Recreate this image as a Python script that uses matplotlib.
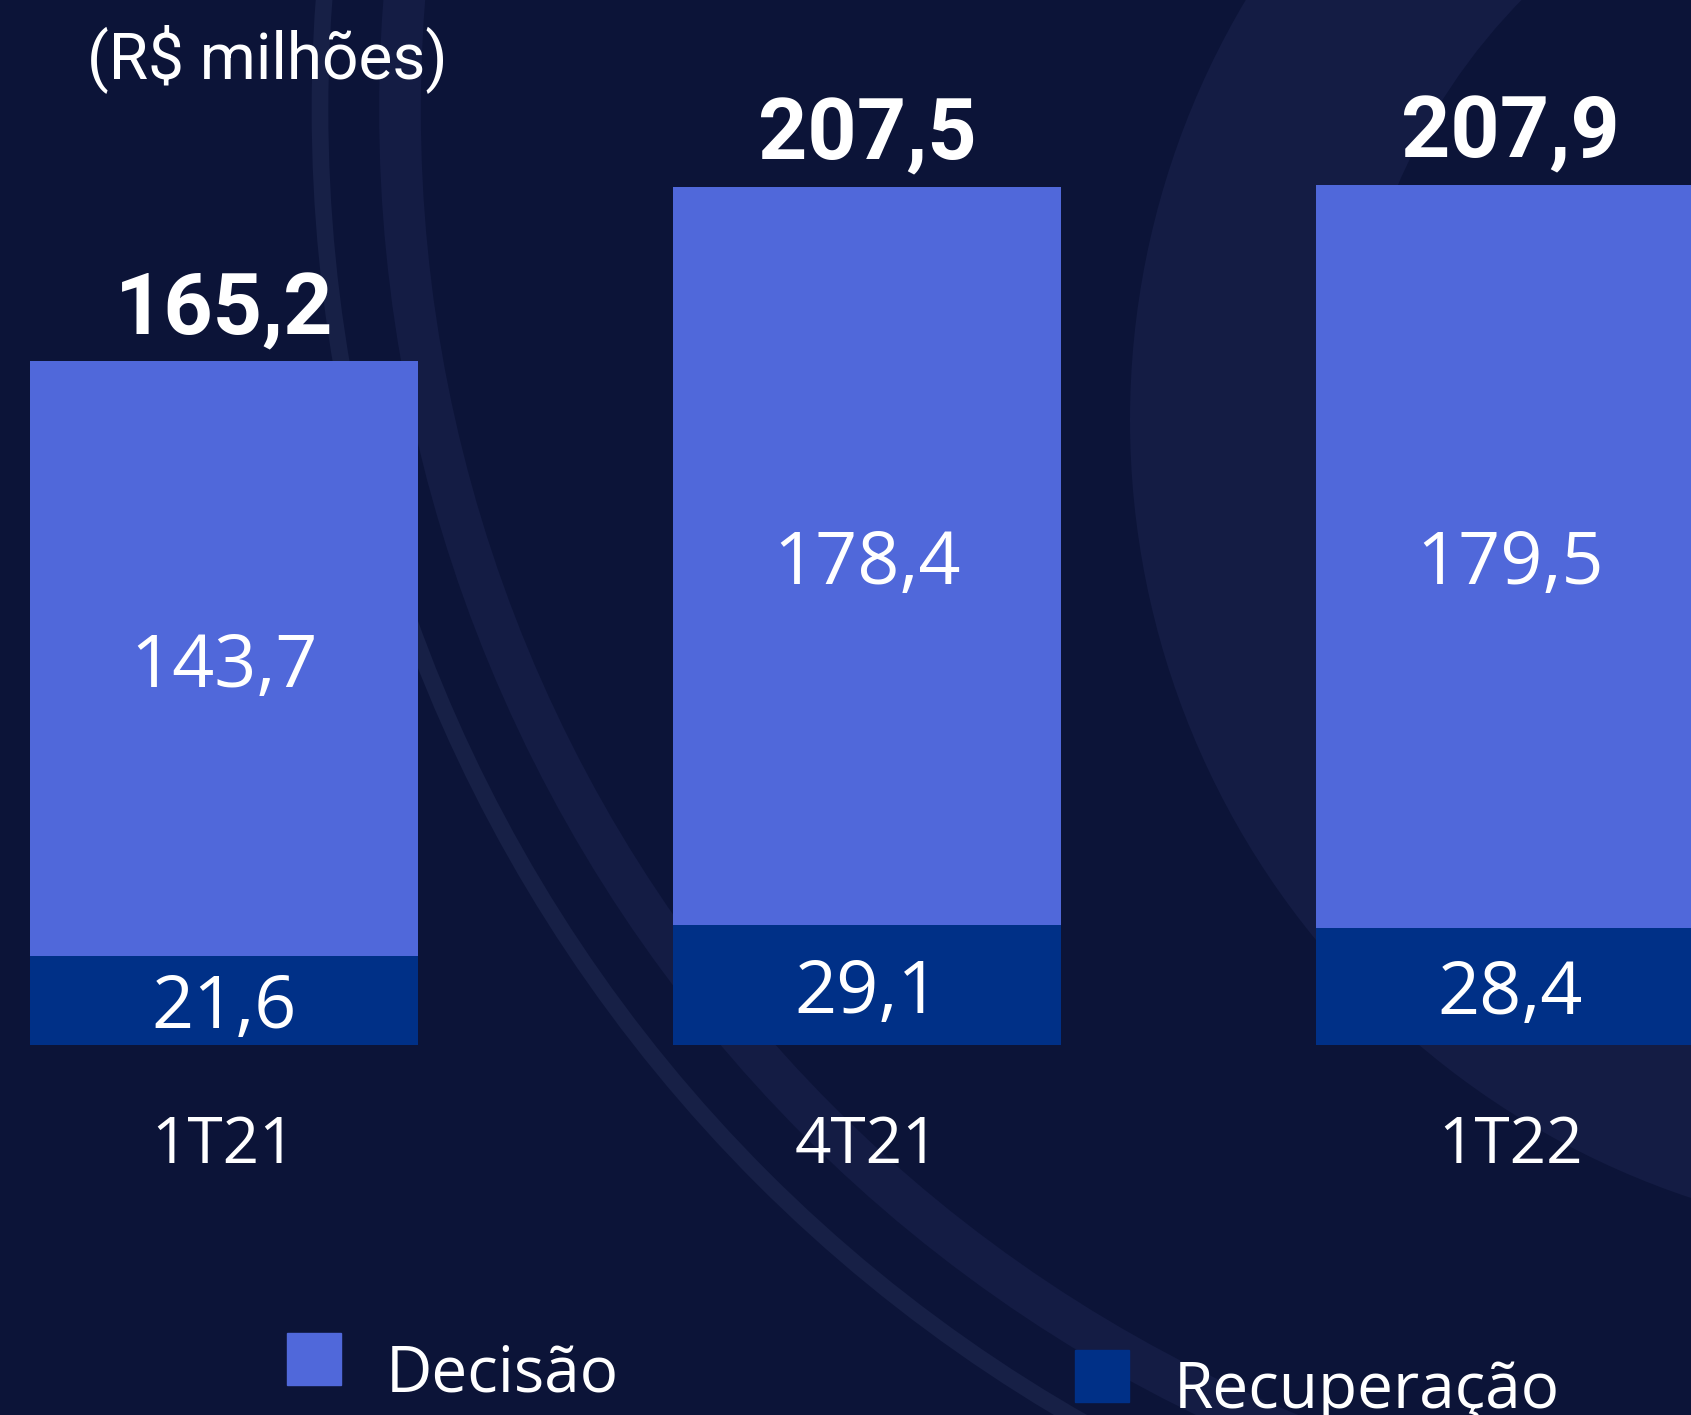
import numpy as np
import matplotlib
matplotlib.use("Agg")
import matplotlib.pyplot as plt
from matplotlib.patches import Circle, Rectangle

# data
periods = ["1T21", "4T21", "1T22"]
recuperacao = [21.6, 29.1, 28.4]
decisao = [143.7, 178.4, 179.5]
totals = [165.2, 207.5, 207.9]

BG = "#0C1438"
C_DEC = "#5068DA"
C_REC = "#003087"

W, H, DPI = 1691, 1415, 100
fig = plt.figure(figsize=(W / DPI, H / DPI), dpi=DPI, facecolor=BG)

# decorative background (faint arcs)
bg = fig.add_axes([0, 0, 1, 1], zorder=-1)
bg.set_xlim(0, W)
bg.set_ylim(H, 0)
bg.axis("off")
bg.set_facecolor(BG)
bg.add_patch(Circle((1950, 420), 820, color="#141C44", lw=0))
bg.add_patch(Circle((1950, 420), 600, color=BG, lw=0))
bg.add_patch(Circle((1830, 110), 1510, fill=False, ec="#172046", lw=12))
bg.add_patch(Circle((1830, 110), 1430, fill=False, ec="#141C44", lw=30))

# main axes: y=0 at pixel 1045, 4.135 px per unit
ax = fig.add_axes([0, (H - 1045) / H, 1, 250 * 4.135 / H])
ax.patch.set_alpha(0)
x = np.arange(len(periods))
width = 0.603
ax.bar(x, recuperacao, width, color=C_REC, zorder=2)
ax.bar(x, decisao, width, bottom=recuperacao, color=C_DEC, zorder=2)
ax.set_xlim(-0.348, 2.281)
ax.set_ylim(0, 250)

for i in range(len(periods)):
    ax.text(x[i], recuperacao[i] / 2, f"{recuperacao[i]:.1f}".replace(".", ","),
            ha="center", va="center_baseline", color="white", fontsize=53,
            family="Open Sans", zorder=3)
    ax.text(x[i], recuperacao[i] + decisao[i] / 2, f"{decisao[i]:.1f}".replace(".", ","),
            ha="center", va="center_baseline", color="white", fontsize=53,
            family="Open Sans", zorder=3)
    ax.annotate(f"{totals[i]:.1f}".replace(".", ","), (x[i], totals[i]),
                xytext=(0, 20), textcoords="offset points", ha="center",
                va="baseline", color="white", fontsize=62, family="Roboto",
                weight="bold", zorder=3)

ax.set_xticks(x, periods, family="Open Sans", fontsize=46, color="white")
ax.tick_params(axis="x", length=0, pad=50)
ax.set_yticks([])
for s in ax.spines.values():
    s.set_visible(False)

fig.text(267 / W, 1 - 59 / H, "(R$ milhões)", ha="center", va="center",
         color="white", fontsize=46, family="Roboto")

# legend
legend_items = [("Decisão", C_DEC, 287, 1333), ("Recuperação", C_REC, 1075, 1350)]
for label, col, lx, ly in legend_items:
    fig.patches.append(Rectangle((lx / W, 1 - (ly + 52) / H), 54 / W, 52 / H,
                                 transform=fig.transFigure, color=col))
    fig.text((lx + 99) / W, 1 - (ly + 58) / H, label, ha="left", va="baseline",
             color="white", fontsize=46, family="Open Sans")

fig.savefig("out.png", dpi=DPI, facecolor=BG)
